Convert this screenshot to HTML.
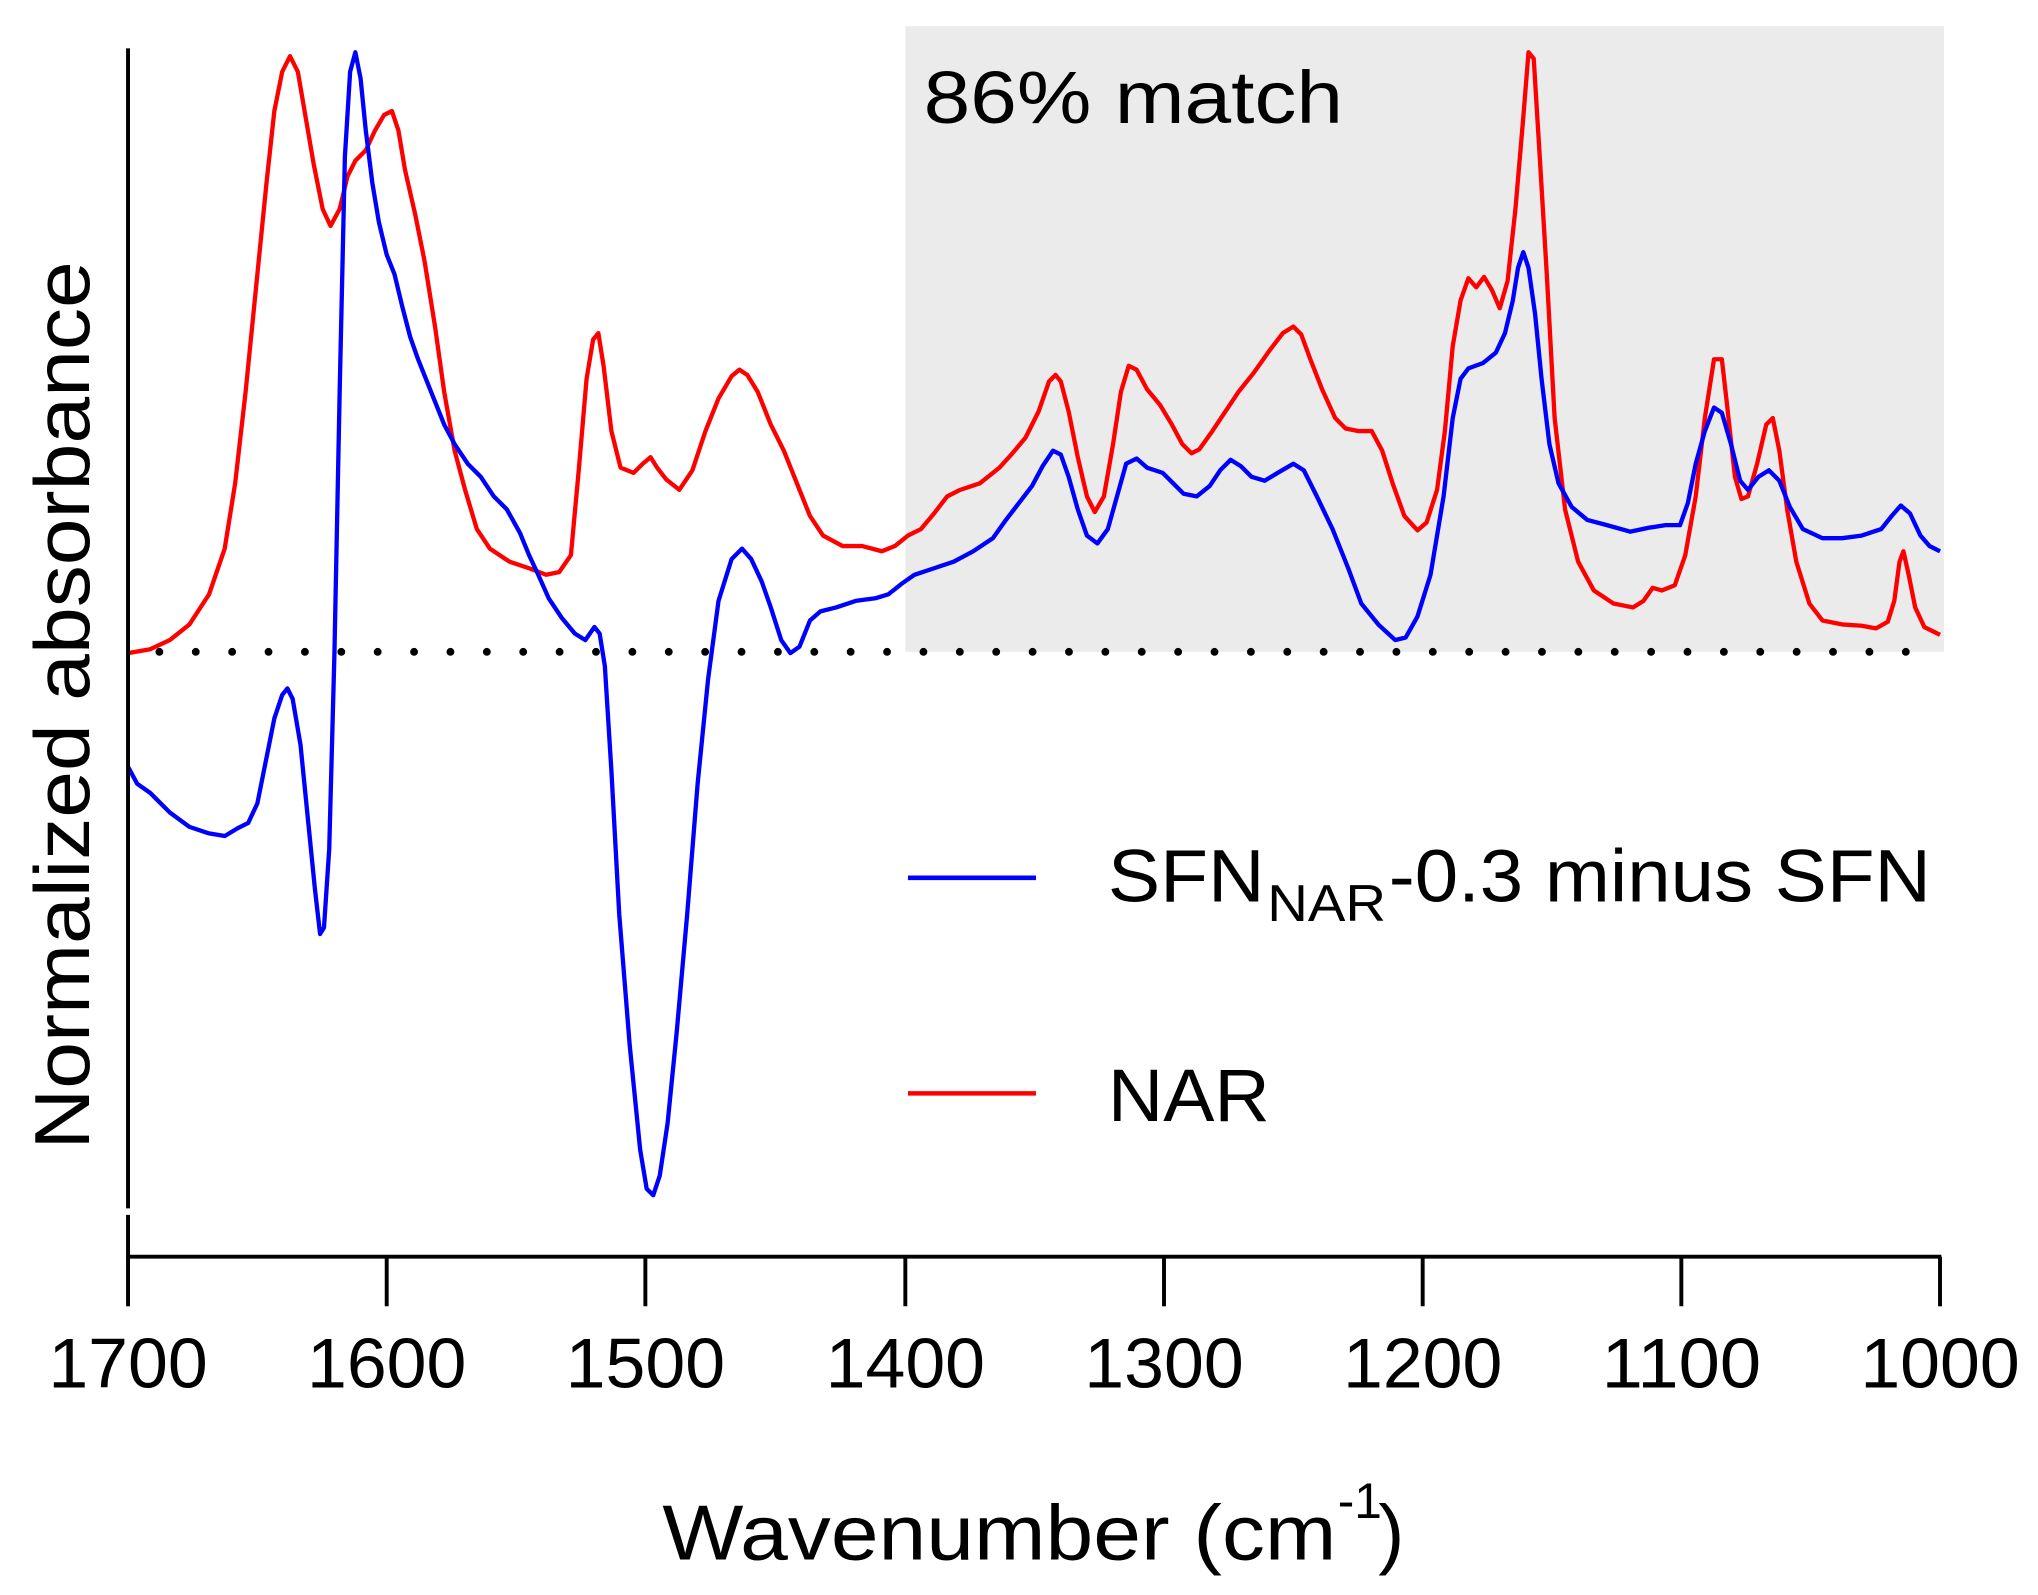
<!DOCTYPE html>
<html><head><meta charset="utf-8"><style>
html,body{margin:0;padding:0;background:#fff;}
svg{display:block;}
text{font-family:"Liberation Sans Narrow","Liberation Sans",sans-serif;fill:#000;}
</style></head><body>
<svg width="2038" height="1595" viewBox="0 0 1560 1221" preserveAspectRatio="none" xmlns="http://www.w3.org/2000/svg">
<rect x="693" y="20" width="795" height="479" fill="#ebebeb"/>
<text x="707" y="94" font-size="57" textLength="321" lengthAdjust="spacingAndGlyphs">86% match</text>
<line x1="122" y1="499" x2="1460" y2="499" stroke="#000" stroke-width="6" stroke-linecap="round" stroke-dasharray="0 27.85"/>
<polyline fill="none" stroke="#ff0000" stroke-width="3.3" stroke-linejoin="round" points="98,500 115,497 130,490 145,478 160,455 172,420 180,370 188,300 196,220 204,140 210,85 216,55 222,43 228,55 234,90 240,125 247,160 253,173 260,160 266,135 272,123 280,115 287,100 294,88 300,85 305,100 310,130 318,165 325,200 333,250 340,300 348,345 356,375 365,405 375,420 390,430 405,435 418,440 428,438 437,425 443,360 449,290 454,260 458,255 462,280 468,330 475,358 485,362 492,355 498,350 503,358 510,367 520,375 530,360 540,330 550,305 560,288 566,283 572,287 580,300 590,325 600,345 610,370 620,395 630,410 645,418 660,418 675,422 685,418 695,410 705,405 715,393 725,380 735,375 750,370 765,358 775,347 785,335 795,315 803,292 808,287 812,292 818,315 825,350 832,380 838,392 845,380 852,340 858,300 864,280 870,283 878,298 888,310 897,325 905,340 912,347 918,344 928,330 938,315 948,300 960,285 972,268 982,255 990,250 996,256 1003,275 1012,298 1022,320 1030,328 1040,330 1050,330 1058,345 1066,370 1075,395 1085,406 1092,400 1100,375 1106,330 1112,265 1118,230 1124,213 1130,220 1136,212 1142,222 1148,236 1154,215 1160,160 1166,90 1170,40 1174,45 1178,110 1184,210 1190,320 1198,390 1208,430 1220,452 1235,462 1250,465 1258,460 1265,450 1272,452 1282,448 1290,425 1298,380 1305,320 1312,275 1318,275 1322,310 1328,365 1333,382 1338,380 1345,355 1352,325 1357,320 1362,345 1368,390 1375,430 1385,462 1395,475 1410,478 1425,479 1436,481 1445,476 1450,460 1454,430 1457,422 1461,440 1466,465 1473,480 1485,486"/>
<polyline fill="none" stroke="#0000ff" stroke-width="3.3" stroke-linejoin="round" points="98,587 105,600 115,607 130,622 145,633 160,638 172,640 182,634 190,630 197,615 204,580 210,550 216,532 220,527 224,535 230,570 236,630 241,680 245,715 248,710 252,650 256,500 260,300 264,120 268,55 272,40 276,60 280,100 285,140 290,170 296,195 302,210 308,235 314,258 320,275 330,300 340,325 348,340 358,355 368,365 378,380 388,390 398,408 405,425 412,440 420,458 430,473 440,485 448,490 455,480 459,485 463,510 468,590 474,700 482,800 490,880 495,910 500,915 505,900 511,860 518,790 526,700 534,600 542,520 550,460 560,428 568,420 575,428 583,445 590,465 598,490 605,500 612,495 620,475 628,468 640,465 655,460 670,458 680,455 690,447 700,440 715,435 730,430 745,422 760,412 770,398 780,385 790,372 798,357 806,345 812,348 818,365 825,390 832,410 840,416 848,405 855,380 862,355 870,351 878,358 890,362 898,370 906,378 916,380 926,372 934,360 942,352 950,357 958,365 968,368 978,362 990,355 998,360 1008,380 1020,405 1032,435 1042,462 1055,478 1068,490 1076,488 1085,472 1095,440 1105,380 1112,320 1118,290 1124,282 1135,278 1145,270 1152,255 1158,230 1162,205 1166,193 1170,205 1175,240 1180,290 1186,340 1193,370 1203,388 1215,398 1230,402 1248,407 1262,404 1275,402 1286,402 1292,385 1298,355 1305,330 1312,312 1318,316 1325,340 1332,368 1338,375 1346,365 1354,360 1362,368 1370,388 1380,405 1395,412 1410,412 1425,410 1440,405 1448,395 1455,387 1462,393 1470,410 1477,418 1485,422"/>
<line x1="98" y1="37" x2="98" y2="925" stroke="#000" stroke-width="3"/>
<line x1="98" y1="930" x2="98" y2="962" stroke="#000" stroke-width="3"/>
<line x1="96.5" y1="962" x2="1486" y2="962" stroke="#000" stroke-width="3"/>
<g stroke="#000" stroke-width="3">
<line x1="98" y1="962" x2="98" y2="1000"/><line x1="296" y1="962" x2="296" y2="1000"/><line x1="494" y1="962" x2="494" y2="1000"/><line x1="693" y1="962" x2="693" y2="1000"/><line x1="891" y1="962" x2="891" y2="1000"/><line x1="1089" y1="962" x2="1089" y2="1000"/><line x1="1287" y1="962" x2="1287" y2="1000"/><line x1="1485" y1="962" x2="1485" y2="1000"/>
</g>
<g font-size="54" text-anchor="middle">
<text x="98" y="1062" textLength="122" lengthAdjust="spacingAndGlyphs">1700</text>
<text x="296" y="1062" textLength="122" lengthAdjust="spacingAndGlyphs">1600</text>
<text x="494" y="1062" textLength="122" lengthAdjust="spacingAndGlyphs">1500</text>
<text x="693" y="1062" textLength="122" lengthAdjust="spacingAndGlyphs">1400</text>
<text x="891" y="1062" textLength="122" lengthAdjust="spacingAndGlyphs">1300</text>
<text x="1089" y="1062" textLength="122" lengthAdjust="spacingAndGlyphs">1200</text>
<text x="1287" y="1062" textLength="122" lengthAdjust="spacingAndGlyphs">1100</text>
<text x="1485" y="1062" textLength="122" lengthAdjust="spacingAndGlyphs">1000</text>
</g>
<text x="507" y="1194" font-size="60" textLength="516" lengthAdjust="spacingAndGlyphs">Wavenumber (cm</text>
<text x="1024" y="1162" font-size="38">-1</text>
<text x="1055" y="1194" font-size="60">)</text>
<text transform="translate(68,540) rotate(-90)" font-size="60" text-anchor="middle" textLength="680" lengthAdjust="spacingAndGlyphs">Normalized absorbance</text>
<line x1="695" y1="672" x2="793" y2="672" stroke="#0000ff" stroke-width="3.5"/>
<line x1="695" y1="837" x2="793" y2="837" stroke="#ff0000" stroke-width="3.5"/>
<text x="848" y="690" font-size="57" textLength="120" lengthAdjust="spacingAndGlyphs">SFN</text>
<text x="970" y="705" font-size="40" textLength="91" lengthAdjust="spacingAndGlyphs">NAR</text>
<text x="1063" y="690" font-size="57" textLength="415" lengthAdjust="spacingAndGlyphs">-0.3 minus SFN</text>
<text x="848" y="858" font-size="57" textLength="124" lengthAdjust="spacingAndGlyphs">NAR</text>
</svg>
</body></html>
